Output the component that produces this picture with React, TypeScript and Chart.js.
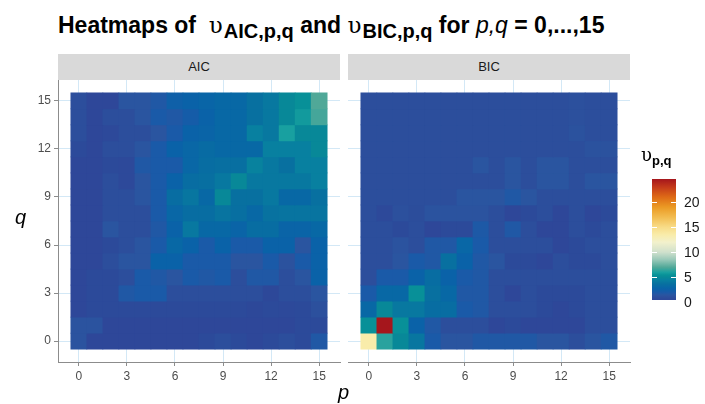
import React, { useEffect, useRef } from 'react';
import { Chart, registerables } from 'chart.js';

Chart.register(...registerables);

// ---------------- data ----------------
const P_VALUES = [0, 1, 2, 3, 4, 5, 6, 7, 8, 9, 10, 11, 12, 13, 14, 15];
const Q_VALUES = [0, 1, 2, 3, 4, 5, 6, 7, 8, 9, 10, 11, 12, 13, 14, 15];
const AXIS_TICKS = [0, 3, 6, 9, 12, 15];
const LEGEND_TICKS = [0, 5, 10, 15, 20];
const PANELS = ['AIC', 'BIC'];

// rows: q = 0 .. 15, columns: p = 0 .. 15
const AIC_VALUES: number[][] = [
  [1.4, 0.5, 0.5, 0.5, 0.5, 0.5, 0.5, 0.5, 0.8, 1.1, 0.8, 0.5, 0.8, 1.1, 0.8, 1.8],
  [1.4, 1.4, 0.5, 0.5, 0.5, 0.5, 0.5, 0.5, 0.5, 0.5, 0.5, 0.5, 0.5, 0.5, 0.8, 0.8],
  [0.5, 0.8, 0.8, 0.8, 0.8, 0.8, 0.8, 0.8, 0.8, 0.8, 0.8, 0.6, 0.8, 0.7, 0.8, 1.2],
  [0.5, 0.8, 0.8, 1.8, 2.0, 2.0, 1.1, 1.1, 1.1, 1.1, 1.1, 1.1, 0.6, 1.1, 1.1, 1.5],
  [0.5, 0.8, 0.8, 1.1, 2.0, 1.8, 1.5, 2.0, 1.8, 2.0, 1.1, 1.8, 1.8, 1.1, 1.5, 2.7],
  [0.5, 0.5, 1.1, 1.5, 1.5, 2.7, 2.7, 2.0, 2.0, 2.0, 1.5, 1.5, 2.0, 1.3, 2.0, 2.7],
  [0.5, 0.5, 0.8, 1.1, 1.5, 2.0, 3.1, 2.7, 2.0, 2.7, 2.0, 2.0, 2.7, 2.7, 1.5, 2.7],
  [0.5, 0.5, 1.5, 1.1, 1.1, 1.8, 2.7, 4.1, 3.1, 3.1, 2.8, 3.5, 3.5, 2.8, 2.8, 3.1],
  [0.5, 0.5, 1.1, 1.1, 1.1, 2.0, 3.0, 3.5, 3.5, 3.9, 3.6, 3.1, 3.8, 3.9, 3.9, 3.9],
  [0.5, 0.5, 1.1, 1.1, 1.5, 2.0, 3.5, 4.0, 3.1, 5.0, 3.7, 3.7, 4.1, 3.1, 3.1, 3.7],
  [0.5, 0.5, 1.1, 0.7, 1.5, 2.0, 2.7, 3.5, 3.6, 4.1, 5.0, 4.1, 4.1, 4.1, 4.1, 4.5],
  [0.5, 0.5, 0.8, 0.7, 1.8, 2.0, 2.0, 3.0, 3.5, 3.6, 3.6, 4.6, 4.1, 3.7, 4.5, 4.5],
  [0.8, 0.5, 1.1, 1.1, 1.5, 2.0, 2.7, 3.0, 3.3, 3.1, 3.1, 3.1, 4.5, 4.5, 4.5, 5.0],
  [1.1, 0.5, 0.7, 1.1, 1.1, 1.5, 2.0, 2.7, 2.8, 3.1, 3.1, 4.5, 4.1, 6.0, 5.0, 5.0],
  [1.1, 0.5, 1.1, 1.1, 1.5, 2.0, 1.8, 2.2, 2.7, 3.1, 3.1, 3.7, 4.1, 5.0, 5.8, 6.8],
  [1.1, 0.5, 0.5, 1.5, 1.5, 1.8, 2.5, 2.7, 2.9, 3.1, 3.1, 3.7, 4.1, 5.0, 5.4, 7.0],
];

const BIC_VALUES: number[][] = [
  [13.5, 6.3, 5.0, 4.0, 2.0, 1.5, 1.5, 1.8, 1.8, 1.8, 1.8, 1.5, 1.5, 1.1, 1.5, 1.8],
  [5.4, 24.6, 5.4, 2.7, 1.8, 1.1, 1.1, 1.1, 0.5, 0.8, 0.5, 0.5, 0.5, 0.5, 1.1, 1.1],
  [3.1, 5.0, 4.1, 4.1, 3.5, 3.5, 2.0, 1.8, 1.1, 1.1, 1.1, 0.8, 0.5, 0.8, 1.1, 1.1],
  [2.0, 3.1, 3.1, 5.4, 3.7, 3.1, 1.8, 1.8, 1.1, 0.5, 1.1, 0.8, 0.8, 0.8, 1.1, 1.1],
  [1.1, 2.0, 2.0, 2.7, 3.5, 2.7, 2.0, 1.8, 1.1, 1.1, 1.1, 1.1, 1.1, 1.1, 1.1, 1.1],
  [1.1, 1.1, 1.5, 2.0, 1.8, 3.7, 2.7, 1.8, 1.5, 0.8, 0.8, 0.5, 1.1, 0.8, 0.8, 1.1],
  [1.1, 1.1, 1.4, 1.1, 1.8, 1.8, 3.0, 2.0, 1.1, 1.1, 1.1, 1.1, 0.5, 0.8, 1.1, 1.1],
  [1.1, 1.1, 0.8, 1.1, 0.5, 0.8, 0.8, 1.9, 1.1, 1.8, 1.1, 0.5, 0.5, 1.1, 0.8, 1.1],
  [1.1, 0.7, 1.2, 1.0, 1.4, 1.4, 1.4, 1.4, 1.1, 0.5, 0.8, 1.1, 0.5, 1.1, 0.5, 0.8],
  [1.1, 1.1, 1.1, 1.1, 1.1, 1.1, 1.5, 1.5, 1.5, 1.8, 1.5, 1.1, 1.1, 1.1, 1.1, 1.1],
  [1.1, 1.1, 1.1, 1.1, 1.1, 1.1, 1.1, 1.1, 1.1, 1.5, 1.1, 1.5, 1.5, 1.1, 1.5, 1.5],
  [1.1, 1.1, 1.1, 1.1, 1.1, 1.1, 1.1, 1.5, 1.1, 1.5, 1.1, 1.5, 1.5, 1.1, 1.1, 1.1],
  [1.1, 1.1, 1.1, 1.1, 1.1, 1.1, 1.1, 1.1, 1.1, 1.1, 1.1, 1.1, 1.1, 1.1, 1.3, 1.3],
  [1.1, 1.1, 1.1, 1.1, 1.1, 1.1, 1.1, 1.1, 1.1, 1.1, 1.1, 1.1, 1.1, 1.3, 1.1, 1.1],
  [1.1, 1.1, 1.1, 1.1, 1.1, 1.1, 1.1, 1.1, 1.1, 1.1, 1.1, 1.1, 1.1, 1.2, 1.1, 1.1],
  [1.1, 1.1, 1.1, 1.1, 1.1, 1.1, 1.1, 1.1, 1.1, 1.1, 1.1, 1.1, 1.1, 1.2, 1.1, 1.1],
];

// colour scale (value, colour)
const COLOR_STOPS: [number, string][] = [
  [0.5, '#2e4799'],
  [0.8, '#2c4a9a'],
  [1.1, '#2c4e9c'],
  [1.5, '#2a55a0'],
  [2.0, '#1a5aa8'],
  [2.7, '#0a62a8'],
  [3.1, '#0868a5'],
  [3.7, '#0870a0'],
  [4.1, '#0878a0'],
  [4.5, '#0880a0'],
  [5.0, '#088898'],
  [5.5, '#089298'],
  [6.0, '#18a0a0'],
  [7.0, '#50a898'],
  [8.5, '#98c8b8'],
  [10, '#cfe0cc'],
  [12, '#f2f1cc'],
  [13.5, '#f9ecaa'],
  [15, '#f8dc88'],
  [17, '#f2bc50'],
  [19, '#eb9a24'],
  [21, '#de6a16'],
  [23, '#c43a1a'],
  [24.6, '#a5161c'],
];
const V_MIN = 0.5;
const V_MAX = 24.6;

// ---------------- layout / style ----------------
const W = 705;
const H = 404;
const PANEL_TOP = 80;
const PANEL_BOTTOM = 362;
const PANEL_X: [number, number][] = [
  [58, 340],
  [348, 630],
];
const SCALE_MIN = -1.3;
const SCALE_MAX = 16.3;
const SANS = '"Liberation Sans", Arial, Helvetica, sans-serif';
const SERIF = '"DejaVu Serif", "Liberation Serif", serif';
const GRID = '#d3e8f6';
const AXIS = '#8c8c8c';
const TICK_TEXT = '#4d4d4d';

function hexToRgb(h: string): number[] {
  const n = parseInt(h.slice(1), 16);
  return [(n >> 16) & 255, (n >> 8) & 255, n & 255];
}

function colorFor(v: number): string {
  const s = COLOR_STOPS;
  if (v <= s[0][0]) return s[0][1];
  for (let i = 0; i < s.length - 1; i++) {
    const [v0, c0] = s[i];
    const [v1, c1] = s[i + 1];
    if (v >= v0 && v <= v1) {
      const t = (v - v0) / (v1 - v0);
      const a = hexToRgb(c0);
      const b = hexToRgb(c1);
      const r = a.map((x, k) => Math.round(x + (b[k] - x) * t));
      return `rgb(${r[0]},${r[1]},${r[2]})`;
    }
  }
  return s[s.length - 1][1];
}

function makePanel(canvas: HTMLCanvasElement, values: number[][], px: [number, number], showY: boolean) {
  const data: any[] = [];
  const colors: string[] = [];
  Q_VALUES.forEach((q, qi) => {
    P_VALUES.forEach((p, pi) => {
      const v = values[qi][pi];
      data.push({ x: p, y: [q - 0.5, q + 0.5] });
      colors.push(colorFor(v));
    });
  });
  const yW = showY ? 30 : 0;
  const xH = 22;
  const font = { family: SANS, size: 12 };
  return new Chart(canvas, {
    type: 'bar',
    data: {
      datasets: [
        {
          data,
          backgroundColor: colors,
          borderWidth: 0,
          barPercentage: 1,
          categoryPercentage: 1,
        } as any,
      ],
    },
    options: {
      animation: false,
      responsive: false,
      maintainAspectRatio: false,
      devicePixelRatio: 1,
      events: [],
      layout: {
        padding: {
          left: px[0] - yW,
          right: W - px[1],
          top: PANEL_TOP,
          bottom: H - PANEL_BOTTOM - xH,
        },
      },
      plugins: {
        legend: { display: false },
        tooltip: { enabled: false },
      },
      scales: {
        x: {
          type: 'linear',
          min: SCALE_MIN,
          max: SCALE_MAX,
          offset: false,
          afterBuildTicks: (a: any) => {
            a.ticks = AXIS_TICKS.map((value) => ({ value }));
          },
          afterFit: (s: any) => {
            s.height = xH;
          },
          grid: {
            offset: false,
            color: GRID,
            lineWidth: 1,
            drawTicks: true,
            tickLength: 4,
            tickColor: AXIS,
            tickWidth: 1,
          },
          border: { display: true, color: AXIS, width: 1 },
          ticks: {
            autoSkip: false,
            maxRotation: 0,
            color: TICK_TEXT,
            font,
            padding: 3,
          },
        } as any,
        y: {
          type: 'linear',
          min: SCALE_MIN,
          max: SCALE_MAX,
          offset: false,
          afterBuildTicks: (a: any) => {
            a.ticks = AXIS_TICKS.map((value) => ({ value }));
          },
          afterFit: (s: any) => {
            s.width = yW;
          },
          grid: {
            offset: false,
            color: GRID,
            lineWidth: 1,
            drawTicks: showY,
            tickLength: 4,
            tickColor: AXIS,
            tickWidth: 1,
          },
          border: { display: showY, color: AXIS, width: 1 },
          ticks: {
            display: showY,
            autoSkip: false,
            color: TICK_TEXT,
            font,
            padding: 3,
          },
        } as any,
      },
    },
  });
}

const legendY = (v: number) => 302 - 5 * v;

export default function App() {
  const aicRef = useRef<HTMLCanvasElement>(null);
  const bicRef = useRef<HTMLCanvasElement>(null);

  useEffect(() => {
    document.body.style.margin = '0';
    const c1 = makePanel(aicRef.current!, AIC_VALUES, PANEL_X[0], true);
    const c2 = makePanel(bicRef.current!, BIC_VALUES, PANEL_X[1], false);
    return () => {
      c1.destroy();
      c2.destroy();
    };
  }, []);

  const gradient = `linear-gradient(to top, ${COLOR_STOPS.map(
    ([v, c]) => `${c} ${(((v - V_MIN) / (V_MAX - V_MIN)) * 100).toFixed(2)}%`
  ).join(', ')})`;
  const barTop = legendY(V_MAX);
  const barBottom = legendY(V_MIN);

  const sub: React.CSSProperties = { fontSize: 20, position: 'relative', top: 5, fontWeight: 'bold' };
  const ups: React.CSSProperties = { fontFamily: SERIF, fontWeight: 'normal', fontSize: 23, marginRight: 1 };

  return (
    <div style={{ position: 'relative', width: W, height: H, background: '#fff', overflow: 'hidden' }}>
      <div
        style={{
          position: 'absolute',
          left: 58,
          top: 14,
          fontFamily: SANS,
          fontWeight: 'bold',
          fontSize: 23,
          lineHeight: '23px',
          color: '#000',
          whiteSpace: 'nowrap',
        }}
      >
        Heatmaps of{'\u00a0\u00a0'}
        <span style={ups}>υ</span>
        <span style={sub}>AIC,p,q</span>
        {'\u00a0'}and{'\u00a0'}
        <span style={ups}>υ</span>
        <span style={sub}>BIC,p,q</span>
        {'\u00a0'}for{'\u00a0'}
        <span style={{ fontStyle: 'italic', fontWeight: 'normal' }}>p,q</span> = 0,...,15
      </div>

      {PANELS.map((name, i) => (
        <div
          key={name}
          style={{
            position: 'absolute',
            left: PANEL_X[i][0],
            top: 54,
            width: PANEL_X[i][1] - PANEL_X[i][0],
            height: PANEL_TOP - 54,
            background: '#d9d9d9',
            color: '#1a1a1a',
            fontFamily: SANS,
            fontSize: 13,
            lineHeight: `${PANEL_TOP - 54}px`,
            textAlign: 'center',
          }}
        >
          {name}
        </div>
      ))}

      <canvas ref={aicRef} width={W} height={H} style={{ position: 'absolute', left: 0, top: 0 }} />
      <canvas ref={bicRef} width={W} height={H} style={{ position: 'absolute', left: 0, top: 0 }} />

      <div
        style={{
          position: 'absolute',
          left: 15,
          top: 205,
          fontFamily: SANS,
          fontStyle: 'italic',
          fontSize: 20,
          lineHeight: '24px',
          color: '#000',
        }}
      >
        q
      </div>
      <div
        style={{
          position: 'absolute',
          left: 338,
          top: 380,
          fontFamily: SANS,
          fontStyle: 'italic',
          fontSize: 20,
          lineHeight: '24px',
          color: '#000',
        }}
      >
        p
      </div>

      {/* legend */}
      <div
        style={{
          position: 'absolute',
          left: 641,
          top: 144,
          fontFamily: SANS,
          fontSize: 18,
          lineHeight: '22px',
          color: '#000',
          whiteSpace: 'nowrap',
        }}
      >
        <span style={{ fontFamily: SERIF }}>υ</span>
        <span style={{ fontSize: 13, fontWeight: 'bold', position: 'relative', top: 4 }}>p,q</span>
      </div>
      <div
        style={{
          position: 'absolute',
          left: 652,
          top: barTop,
          width: 24,
          height: barBottom - barTop,
          background: gradient,
        }}
      />
      {LEGEND_TICKS.filter((v) => v > V_MIN && v < V_MAX).map((v) => (
        <React.Fragment key={'t' + v}>
          <div style={{ position: 'absolute', left: 652, top: legendY(v) - 0.5, width: 5, height: 1, background: '#fff' }} />
          <div style={{ position: 'absolute', left: 671, top: legendY(v) - 0.5, width: 5, height: 1, background: '#fff' }} />
        </React.Fragment>
      ))}
      {LEGEND_TICKS.map((v) => (
        <div
          key={'l' + v}
          style={{
            position: 'absolute',
            left: 684,
            top: legendY(v) - 8,
            fontFamily: SANS,
            fontSize: 14,
            lineHeight: '16px',
            color: '#1a1a1a',
          }}
        >
          {v}
        </div>
      ))}
    </div>
  );
}
